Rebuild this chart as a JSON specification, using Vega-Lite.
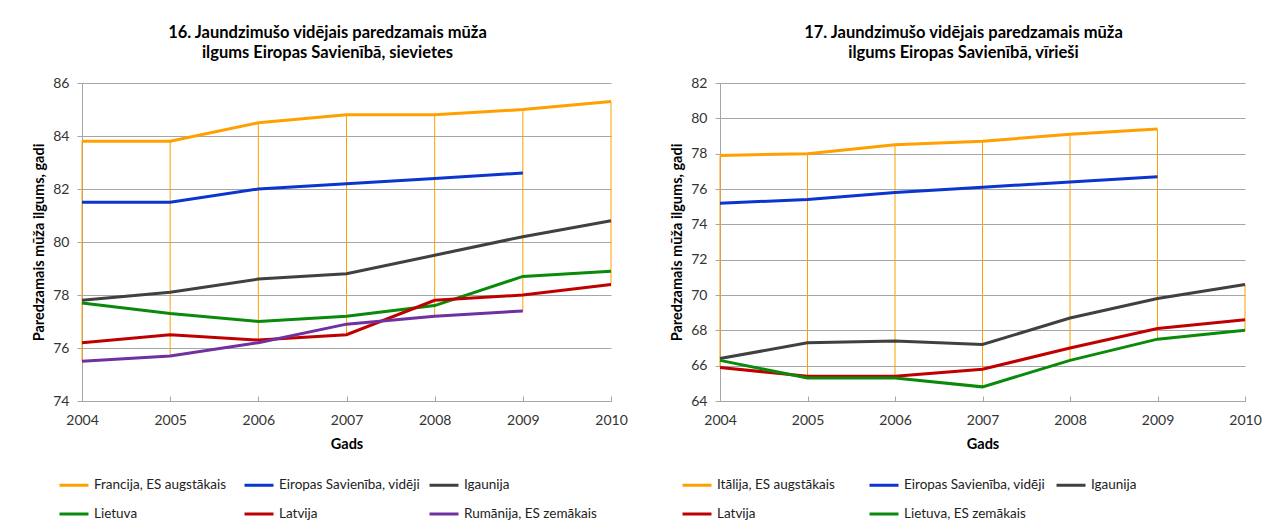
{
  "$schema": "https://vega.github.io/schema/vega-lite/v6.json",
  "background": "white",
  "padding": {"left": 31, "top": 24, "right": 5, "bottom": 0},
  "config": {
    "font": "Lato",
    "view": {"stroke": null},
    "concat": {"spacing": 41},
    "title": {"font": "Lato", "fontSize": 16.5, "fontWeight": "bold", "color": "#000000", "anchor": "middle", "lineHeight": 20, "offset": 15, "dx": -19},
    "axis": {
      "domainColor": "#A6A6A6", "tickColor": "#A6A6A6", "gridColor": "#A6A6A6",
      "labelFont": "Lato", "labelFontSize": 14, "labelColor": "#333333", "labelFlush": false,
      "titleFont": "Lato", "titleFontSize": 14.5, "titleFontWeight": "bold", "titleColor": "#000000"
    },
    "legend": {
      "orient": "none", "direction": "horizontal", "columns": 3, "gridAlign": "all",
      "symbolType": "stroke", "symbolSize": 841, "symbolStrokeWidth": 3,
      "labelFont": "Lato", "labelFontSize": 13.5, "labelColor": "#222222", "labelOffset": 4,
      "columnPadding": 2, "rowPadding": 6, "padding": 0, "title": null, "labelLimit": 300
    }
  },
  "datasets": {
    "women": [
      {"series": "Francija, ES augstākais", "year": 2004, "value": 83.8},
      {"series": "Francija, ES augstākais", "year": 2005, "value": 83.8},
      {"series": "Francija, ES augstākais", "year": 2006, "value": 84.5},
      {"series": "Francija, ES augstākais", "year": 2007, "value": 84.8},
      {"series": "Francija, ES augstākais", "year": 2008, "value": 84.8},
      {"series": "Francija, ES augstākais", "year": 2009, "value": 85.0},
      {"series": "Francija, ES augstākais", "year": 2010, "value": 85.3},
      {"series": "Eiropas Savienība, vidēji", "year": 2004, "value": 81.5},
      {"series": "Eiropas Savienība, vidēji", "year": 2005, "value": 81.5},
      {"series": "Eiropas Savienība, vidēji", "year": 2006, "value": 82.0},
      {"series": "Eiropas Savienība, vidēji", "year": 2007, "value": 82.2},
      {"series": "Eiropas Savienība, vidēji", "year": 2008, "value": 82.4},
      {"series": "Eiropas Savienība, vidēji", "year": 2009, "value": 82.6},
      {"series": "Igaunija", "year": 2004, "value": 77.8},
      {"series": "Igaunija", "year": 2005, "value": 78.1},
      {"series": "Igaunija", "year": 2006, "value": 78.6},
      {"series": "Igaunija", "year": 2007, "value": 78.8},
      {"series": "Igaunija", "year": 2008, "value": 79.5},
      {"series": "Igaunija", "year": 2009, "value": 80.2},
      {"series": "Igaunija", "year": 2010, "value": 80.8},
      {"series": "Lietuva", "year": 2004, "value": 77.7},
      {"series": "Lietuva", "year": 2005, "value": 77.3},
      {"series": "Lietuva", "year": 2006, "value": 77.0},
      {"series": "Lietuva", "year": 2007, "value": 77.2},
      {"series": "Lietuva", "year": 2008, "value": 77.6},
      {"series": "Lietuva", "year": 2009, "value": 78.7},
      {"series": "Lietuva", "year": 2010, "value": 78.9},
      {"series": "Latvija", "year": 2004, "value": 76.2},
      {"series": "Latvija", "year": 2005, "value": 76.5},
      {"series": "Latvija", "year": 2006, "value": 76.3},
      {"series": "Latvija", "year": 2007, "value": 76.5},
      {"series": "Latvija", "year": 2008, "value": 77.8},
      {"series": "Latvija", "year": 2009, "value": 78.0},
      {"series": "Latvija", "year": 2010, "value": 78.4},
      {"series": "Rumānija, ES zemākais", "year": 2004, "value": 75.5},
      {"series": "Rumānija, ES zemākais", "year": 2005, "value": 75.7},
      {"series": "Rumānija, ES zemākais", "year": 2006, "value": 76.2},
      {"series": "Rumānija, ES zemākais", "year": 2007, "value": 76.9},
      {"series": "Rumānija, ES zemākais", "year": 2008, "value": 77.2},
      {"series": "Rumānija, ES zemākais", "year": 2009, "value": 77.4}
    ],
    "men": [
      {"series": "Itālija, ES augstākais", "year": 2004, "value": 77.9},
      {"series": "Itālija, ES augstākais", "year": 2005, "value": 78.0},
      {"series": "Itālija, ES augstākais", "year": 2006, "value": 78.5},
      {"series": "Itālija, ES augstākais", "year": 2007, "value": 78.7},
      {"series": "Itālija, ES augstākais", "year": 2008, "value": 79.1},
      {"series": "Itālija, ES augstākais", "year": 2009, "value": 79.4},
      {"series": "Eiropas Savienība, vidēji", "year": 2004, "value": 75.2},
      {"series": "Eiropas Savienība, vidēji", "year": 2005, "value": 75.4},
      {"series": "Eiropas Savienība, vidēji", "year": 2006, "value": 75.8},
      {"series": "Eiropas Savienība, vidēji", "year": 2007, "value": 76.1},
      {"series": "Eiropas Savienība, vidēji", "year": 2008, "value": 76.4},
      {"series": "Eiropas Savienība, vidēji", "year": 2009, "value": 76.7},
      {"series": "Igaunija", "year": 2004, "value": 66.4},
      {"series": "Igaunija", "year": 2005, "value": 67.3},
      {"series": "Igaunija", "year": 2006, "value": 67.4},
      {"series": "Igaunija", "year": 2007, "value": 67.2},
      {"series": "Igaunija", "year": 2008, "value": 68.7},
      {"series": "Igaunija", "year": 2009, "value": 69.8},
      {"series": "Igaunija", "year": 2010, "value": 70.6},
      {"series": "Latvija", "year": 2004, "value": 65.9},
      {"series": "Latvija", "year": 2005, "value": 65.4},
      {"series": "Latvija", "year": 2006, "value": 65.4},
      {"series": "Latvija", "year": 2007, "value": 65.8},
      {"series": "Latvija", "year": 2008, "value": 67.0},
      {"series": "Latvija", "year": 2009, "value": 68.1},
      {"series": "Latvija", "year": 2010, "value": 68.6},
      {"series": "Lietuva, ES zemākais", "year": 2004, "value": 66.3},
      {"series": "Lietuva, ES zemākais", "year": 2005, "value": 65.3},
      {"series": "Lietuva, ES zemākais", "year": 2006, "value": 65.3},
      {"series": "Lietuva, ES zemākais", "year": 2007, "value": 64.8},
      {"series": "Lietuva, ES zemākais", "year": 2008, "value": 66.3},
      {"series": "Lietuva, ES zemākais", "year": 2009, "value": 67.5},
      {"series": "Lietuva, ES zemākais", "year": 2010, "value": 68.0}
    ]
  },
  "hconcat": [
    {
      "width": 529,
      "height": 318,
      "title": {"text": ["16. Jaundzimušo vidējais paredzamais mūža", "ilgums Eiropas Savienībā, sievietes"]},
      "data": {"name": "women"},
      "encoding": {
        "x": {"field": "year", "type": "quantitative", "title": "Gads",
              "scale": {"domain": [2004, 2010], "nice": false, "zero": false},
              "axis": {"values": [2004, 2005, 2006, 2007, 2008, 2009, 2010], "format": "d", "grid": false, "tickSize": -5, "labelPadding": 17, "titlePadding": 10, "labelOverlap": false, "labelFlush": false}}
      },
      "layer": [
        {
          "transform": [{"aggregate": [{"op": "max", "field": "value", "as": "hi"}, {"op": "min", "field": "value", "as": "lo"}], "groupby": ["year"]}],
          "mark": {"type": "rule", "color": "#FFA000", "strokeWidth": 1},
          "encoding": {
            "y": {"field": "hi", "type": "quantitative", "title": "Paredzamais mūža ilgums, gadi",
                  "scale": {"domain": [74, 86], "nice": false, "zero": false},
                  "axis": {"values": [74, 76, 78, 80, 82, 84, 86], "grid": true, "tickSize": 5, "labelPadding": 8, "titlePadding": 6, "labelOverlap": false, "labelFlush": false}},
            "y2": {"field": "lo"}
          }
        },
        {
          "mark": {"type": "line", "strokeWidth": 3},
          "encoding": {
            "y": {"field": "value", "type": "quantitative", "title": "Paredzamais mūža ilgums, gadi",
                  "scale": {"domain": [74, 86], "nice": false, "zero": false},
                  "axis": {"values": [74, 76, 78, 80, 82, 84, 86], "grid": true, "tickSize": 5, "labelPadding": 8, "titlePadding": 6, "labelOverlap": false, "labelFlush": false}},
            "color": {"field": "series", "type": "nominal",
                      "scale": {"domain": ["Francija, ES augstākais", "Eiropas Savienība, vidēji", "Igaunija", "Lietuva", "Latvija", "Rumānija, ES zemākais"],
                                "range": ["#FFA000", "#0A35CF", "#404040", "#0A8A0A", "#C00000", "#7030A0"]},
                      "legend": {"legendX": -24, "legendY": 386, "gridAlign": "all", "columnPadding": 3}}
          }
        }
      ]
    },
    {
      "width": 525,
      "height": 318,
      "title": {"text": ["17. Jaundzimušo vidējais paredzamais mūža", "ilgums Eiropas Savienībā, vīrieši"]},
      "data": {"name": "men"},
      "encoding": {
        "x": {"field": "year", "type": "quantitative", "title": "Gads",
              "scale": {"domain": [2004, 2010], "nice": false, "zero": false},
              "axis": {"values": [2004, 2005, 2006, 2007, 2008, 2009, 2010], "format": "d", "grid": false, "tickSize": -5, "labelPadding": 17, "titlePadding": 10, "labelOverlap": false, "labelFlush": false}}
      },
      "layer": [
        {
          "transform": [{"aggregate": [{"op": "max", "field": "value", "as": "hi"}, {"op": "min", "field": "value", "as": "lo"}], "groupby": ["year"]}],
          "mark": {"type": "rule", "color": "#FFA000", "strokeWidth": 1},
          "encoding": {
            "y": {"field": "hi", "type": "quantitative", "title": "Paredzamais mūža ilgums, gadi",
                  "scale": {"domain": [64, 82], "nice": false, "zero": false},
                  "axis": {"values": [64, 66, 68, 70, 72, 74, 76, 78, 80, 82], "grid": true, "tickSize": 5, "labelPadding": 8, "titlePadding": 6, "labelOverlap": false, "labelFlush": false}},
            "y2": {"field": "lo"}
          }
        },
        {
          "mark": {"type": "line", "strokeWidth": 3},
          "encoding": {
            "y": {"field": "value", "type": "quantitative", "title": "Paredzamais mūža ilgums, gadi",
                  "scale": {"domain": [64, 82], "nice": false, "zero": false},
                  "axis": {"values": [64, 66, 68, 70, 72, 74, 76, 78, 80, 82], "grid": true, "tickSize": 5, "labelPadding": 8, "titlePadding": 6, "labelOverlap": false, "labelFlush": false}},
            "color": {"field": "series", "type": "nominal",
                      "scale": {"domain": ["Itālija, ES augstākais", "Eiropas Savienība, vidēji", "Igaunija", "Latvija", "Lietuva, ES zemākais"],
                                "range": ["#FFA000", "#0A35CF", "#404040", "#C00000", "#0A8A0A"]},
                      "legend": {"legendX": -39, "legendY": 386, "gridAlign": "all", "columnPadding": 5}}
          }
        }
      ]
    }
  ],
  "resolve": {"scale": {"color": "independent"}}
}
